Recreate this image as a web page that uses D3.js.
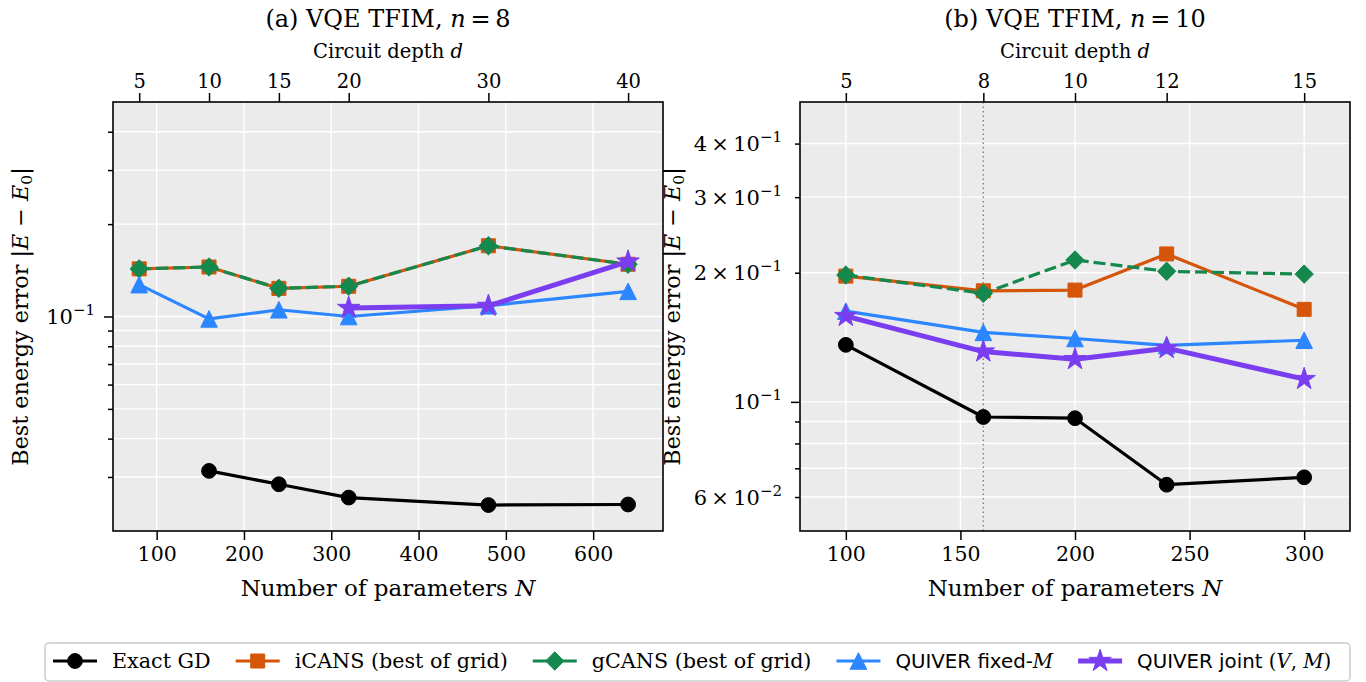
<!DOCTYPE html>
<html>
<head>
<meta charset="utf-8">
<script src="https://cdn.jsdelivr.net/npm/d3@7"></script>
<style>
  body { margin: 0; background: #fff; }
  svg { display: block; font-family: "DejaVu Serif", serif; }
</style>
</head>
<body>
<div id="wrapper"></div>
<script>
// ---- panel (a): n = 8 ----
const paramsA = [80, 160, 240, 320, 480, 640]
const depthsA = [5, 10, 15, 20, 30, 40]
const exactA = [null, 0.0314, 0.0284, 0.0257, 0.0243, 0.0244]
const icansA = [0.143, 0.145, 0.1235, 0.1255, 0.170, 0.148]
const gcansA = [0.143, 0.145, 0.1235, 0.1255, 0.170, 0.148]
const fixedA = [0.127, 0.0982, 0.1052, 0.100, 0.1084, 0.1208]
const jointA = [null, null, null, 0.1066, 0.1083, 0.151]
const xTicksA = [100, 200, 300, 400, 500, 600]
const yMinorA = [0.03, 0.04, 0.05, 0.06, 0.07, 0.08, 0.09, 0.2, 0.3, 0.4]
const yMajorA = [0.1]
const yLabelsA = [0.1]

// ---- panel (b): n = 10 ----
const paramsB = [100, 160, 200, 240, 300]
const depthsB = [5, 8, 10, 12, 15]
const exactB = [0.1358, 0.0922, 0.0916, 0.0641, 0.0667]
const icansB = [0.1964, 0.1815, 0.1822, 0.2212, 0.1643]
const gcansB = [0.1975, 0.1790, 0.2141, 0.2015, 0.1985]
const fixedB = [0.1627, 0.1452, 0.1405, 0.1354, 0.1392]
const jointB = [0.1585, 0.1310, 0.1257, 0.1334, 0.1130]
const xTicksB = [100, 150, 200, 250, 300]
const yMinorB = [0.06, 0.07, 0.08, 0.09, 0.2, 0.3, 0.4]
const yMajorB = [0.1]
const yLabelsB = [0.06, 0.1, 0.2, 0.3, 0.4]
const markedDepthB = 160

const seriesNames = ["Exact GD", "iCANS (best of grid)", "gCANS (best of grid)", "QUIVER fixed-M", "QUIVER joint (V, M)"]

// styles for each series
const styles = [
    { color: "#000000", marker: "circle", width: 3.2, dash: null },
    { color: "#d5550b", marker: "square", width: 3.2, dash: null },
    { color: "#15884d", marker: "diamond", width: 3.2, dash: "12,5" },
    { color: "#2b86ff", marker: "triangle", width: 3.2, dash: null },
    { color: "#7a3ef0", marker: "star", width: 5, dash: null },
]

const width = 1366
const height = 682

const svg = d3.select("#wrapper")
    .append("svg")
    .attr("width", width)
    .attr("height", height)

function markerPath(type) {
    if (type === "circle") return d3.symbol(d3.symbolCircle, Math.PI * 7.4 * 7.4)()
    if (type === "square") return d3.symbol(d3.symbolSquare, 14 * 14)()
    if (type === "diamond") { const r = 9.2; return `M0,${-r}L${r},0L0,${r}L${-r},0Z` }
    if (type === "triangle") { const r = 8.3; return `M0,${-r}L${r},${r}L${-r},${r}Z` }
    if (type === "star") return d3.symbol(d3.symbolStar, 11.8 * 11.8 / 0.8908130915292852)()
}

// writes "a × 10^b" with a real superscript
function sciLabel(sel, v) {
    const exp = Math.floor(Math.log10(v) + 1e-9)
    const mant = Math.round(v / Math.pow(10, exp))
    sel.append("tspan").text(mant === 1 ? "10" : `${mant}\u2009×\u200910`)
    sel.append("tspan")
        .attr("dy", -9)
        .attr("font-size", 15)
        .text(exp < 0 ? "\u2212" + Math.abs(exp) : exp)
}

function yTitle(g, x, y) {
    const t = g.append("text")
        .attr("transform", `translate(${x},${y}) rotate(-90)`)
        .attr("text-anchor", "middle")
        .attr("font-size", 22.3)
    t.append("tspan").text("Best energy error |")
    t.append("tspan").attr("font-style", "italic").text("E")
    t.append("tspan").text(" \u2212 ")
    t.append("tspan").attr("font-style", "italic").text("E")
    t.append("tspan").attr("font-size", 15.5).attr("dy", 4).text("0")
    t.append("tspan").attr("dy", -4).text("|")
}

function drawPanel(p) {
    const g = svg.append("g")
    const xScale = d3.scaleLinear().domain(p.xDomain).range([p.left, p.right])
    const yScale = d3.scaleLog().domain(p.yDomain).range([p.bottom, p.top])

    // y title (drawn first so the other panel can sit on it)
    yTitle(g, p.yTitleX, (p.top + p.bottom) / 2)

    g.append("rect")
        .attr("x", p.left)
        .attr("y", p.top)
        .attr("width", p.right - p.left)
        .attr("height", p.bottom - p.top)
        .attr("fill", "#ebebeb")

    // grid
    g.append("g").selectAll("line")
        .data(p.xTicks)
        .join("line")
        .attr("x1", d => xScale(d)).attr("x2", d => xScale(d))
        .attr("y1", p.top).attr("y2", p.bottom)
        .attr("stroke", "#fff").attr("stroke-width", 1.4)
    g.append("g").selectAll("line")
        .data(p.yMinor.concat(p.yMajor))
        .join("line")
        .attr("x1", p.left).attr("x2", p.right)
        .attr("y1", d => yScale(d)).attr("y2", d => yScale(d))
        .attr("stroke", "#fff").attr("stroke-width", 1.4)

    if (p.marked != null) {
        g.append("line")
            .attr("x1", xScale(p.marked)).attr("x2", xScale(p.marked))
            .attr("y1", p.top).attr("y2", p.bottom)
            .attr("stroke", "#808080")
            .attr("stroke-width", 1.4)
            .attr("stroke-dasharray", "1.5,3")
    }

    // series
    p.series.forEach((values, i) => {
        const s = styles[i]
        const pts = p.params.map((n, j) => ({ n, v: values[j] })).filter(d => d.v != null)
        const lineGenerator = d3.line()
            .x(d => xScale(d.n))
            .y(d => yScale(d.v))
        g.append("path")
            .attr("d", lineGenerator(pts))
            .attr("fill", "none")
            .attr("stroke", s.color)
            .attr("stroke-width", s.width)
            .attr("stroke-dasharray", s.dash)
            .attr("stroke-linejoin", "round")
        g.append("g").selectAll("path")
            .data(pts)
            .join("path")
            .attr("d", markerPath(s.marker))
            .attr("transform", d => `translate(${xScale(d.n)},${yScale(d.v)})`)
            .attr("fill", s.color)
            .attr("stroke", s.color)
            .attr("stroke-width", 1)
    })

    // spines
    g.append("rect")
        .attr("x", p.left)
        .attr("y", p.top)
        .attr("width", p.right - p.left)
        .attr("height", p.bottom - p.top)
        .attr("fill", "none")
        .attr("stroke", "#000")
        .attr("stroke-width", 1.6)

    // bottom axis
    const xAxis = g.append("g")
        .attr("transform", `translate(0,${p.bottom})`)
        .call(d3.axisBottom(xScale).tickValues(p.xTicks).tickSize(9).tickSizeOuter(0).tickPadding(6))
    // top axis: circuit depth
    const topAxis = g.append("g")
        .attr("transform", `translate(0,${p.top})`)
        .call(d3.axisTop(xScale).tickValues(p.params).tickFormat((d, i) => p.depths[i]).tickSize(9).tickSizeOuter(0).tickPadding(5))
    // left axis: minor and major ticks
    const yMinorAxis = g.append("g")
        .attr("transform", `translate(${p.left},0)`)
        .call(d3.axisLeft(yScale).tickValues(p.yMinor).tickSize(5).tickFormat(""))
    const yMajorAxis = g.append("g")
        .attr("transform", `translate(${p.left},0)`)
        .call(d3.axisLeft(yScale).tickValues(p.yMajor).tickSize(9).tickFormat(""))

    ;[xAxis, topAxis, yMinorAxis, yMajorAxis].forEach(a => {
        a.select(".domain").remove()
        a.selectAll(".tick line").attr("stroke", "#000").attr("stroke-width", 1.5)
        a.selectAll(".tick text")
            .attr("font-family", "DejaVu Serif, serif")
            .attr("font-size", 19.5)
            .attr("fill", "#000")
    })
    xAxis.selectAll(".tick text").attr("font-size", 20.5)

    // y tick labels
    g.append("g").selectAll("text")
        .data(p.yLabels)
        .join("text")
        .attr("x", p.left - 18)
        .attr("y", d => yScale(d) + 7.5)
        .attr("text-anchor", "end")
        .attr("font-size", 21)
        .each(function (d) { sciLabel(d3.select(this), d) })

    // axis titles
    const xt = g.append("text")
        .attr("x", (p.left + p.right) / 2)
        .attr("y", 596)
        .attr("text-anchor", "middle")
        .attr("font-size", 23)
    xt.append("tspan").text("Number of parameters ")
    xt.append("tspan").attr("font-style", "italic").text("N")

    const dt = g.append("text")
        .attr("x", (p.left + p.right) / 2)
        .attr("y", 58)
        .attr("text-anchor", "middle")
        .attr("font-size", 19.5)
    dt.append("tspan").text("Circuit depth ")
    dt.append("tspan").attr("font-style", "italic").text("d")

    const tt = g.append("text")
        .attr("x", (p.left + p.right) / 2)
        .attr("y", 27)
        .attr("text-anchor", "middle")
        .attr("font-size", 24)
    tt.append("tspan").text(p.title + ", ")
    tt.append("tspan").attr("font-style", "italic").text("n")
    tt.append("tspan").text("\u2009=\u2009" + p.n)
}

// right panel first so the left panel covers its y title edge
drawPanel({
    left: 800, right: 1350, top: 102, bottom: 531,
    xDomain: [80, 320], yDomain: [0.05, 0.5],
    params: paramsB, depths: depthsB,
    series: [exactB, icansB, gcansB, fixedB, jointB],
    xTicks: xTicksB, yMinor: yMinorB, yMajor: yMajorB, yLabels: yLabelsB,
    marked: markedDepthB,
    yTitleX: 680, title: "(b) VQE TFIM", n: 10,
})
drawPanel({
    left: 113, right: 663, top: 102, bottom: 531,
    xDomain: [50, 680], yDomain: [0.02, 0.5],
    params: paramsA, depths: depthsA,
    series: [exactA, icansA, gcansA, fixedA, jointA],
    xTicks: xTicksA, yMinor: yMinorA, yMajor: yMajorA, yLabels: yLabelsA,
    marked: null,
    yTitleX: 28, title: "(a) VQE TFIM", n: 8,
})

// legend
const legend = svg.append("g")
legend.append("rect")
    .attr("x", 45).attr("y", 643)
    .attr("width", 1305).attr("height", 38)
    .attr("rx", 4)
    .attr("fill", "#fff")
    .attr("stroke", "#cccccc")
    .attr("stroke-width", 1.5)

let cursor = 53
const legendY = 661
seriesNames.forEach((name, i) => {
    const s = styles[i]
    const item = legend.append("g")
    item.append("line")
        .attr("x1", cursor).attr("x2", cursor + 44)
        .attr("y1", legendY).attr("y2", legendY)
        .attr("stroke", s.color)
        .attr("stroke-width", s.width)
        .attr("stroke-dasharray", s.dash ? "14,16,14" : null)
    item.append("path")
        .attr("d", markerPath(s.marker))
        .attr("transform", `translate(${cursor + 22},${legendY})`)
        .attr("fill", s.color)
        .attr("stroke", s.color)
    const label = item.append("text")
        .attr("x", cursor + 59)
        .attr("y", legendY + 7)
        .attr("font-size", 20.7)
    if (name.startsWith("QUIVER")) {
        label.attr("font-family", "DejaVu Sans, sans-serif").attr("font-size", 19.8)
        if (name.endsWith("-M")) {
            label.append("tspan").text("QUIVER fixed-")
            label.append("tspan").attr("font-family", "DejaVu Serif, serif").attr("font-style", "italic").text("M")
        } else {
            label.append("tspan").text("QUIVER joint ")
            label.append("tspan").attr("font-family", "DejaVu Serif, serif").text("(")
            label.append("tspan").attr("font-family", "DejaVu Serif, serif").attr("font-style", "italic").text("V")
            label.append("tspan").attr("font-family", "DejaVu Serif, serif").text(", ")
            label.append("tspan").attr("font-family", "DejaVu Serif, serif").attr("font-style", "italic").text("M")
            label.append("tspan").attr("font-family", "DejaVu Serif, serif").text(")")
        }
    } else {
        label.text(name)
    }
    cursor += 59 + label.node().getComputedTextLength() + 25
})
</script>
</body>
</html>
